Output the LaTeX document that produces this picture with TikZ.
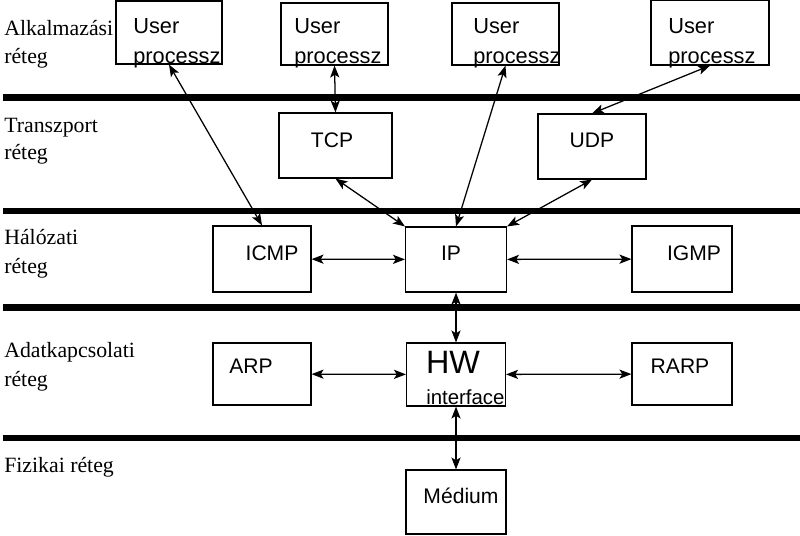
\documentclass[tikz,border=0pt]{standalone}
\usepackage{fontspec}
\setmainfont{Liberation Serif}
\setsansfont{Liberation Sans}
\usetikzlibrary{arrows.meta}

\begin{document}
\begin{tikzpicture}[
    x=0.025cm, y=-0.025cm,
    box/.style={draw, line width=0.8pt, minimum width=2.5cm, minimum height=1.6cm, inner sep=0pt},
    txt/.style={font=\sffamily\fontsize{15}{16}\selectfont, inner sep=0pt, anchor=base},
    usr/.style={font=\sffamily\fontsize{15.5}{17}\selectfont, inner sep=0pt, anchor=base west},
    lay/.style={font=\fontsize{15.5}{17}\selectfont, inner sep=0pt, anchor=base west},
    sep/.style={line width=4.4pt},
    arr/.style={<->, >={Stealth[length=8.5pt,width=6.5pt,inset=2pt]}, line width=0.9pt}
]
    \useasboundingbox (0,0) rectangle (800,535);

    % Layer separators
    \foreach \y in {97.5,211,307.5,438}
        \draw[sep] (3,\y) -- (800,\y);

    % Layer names
    \node[lay] (L1a) at (4,35) {Alkalmazási};
    \node[lay] (L1b) at (4,63) {réteg};
    \node[lay] (L2a) at (4,132) {Transzport};
    \node[lay] (L2b) at (4,159) {réteg};
    \node[lay] (L3a) at (4,244) {Hálózati};
    \node[lay] (L3b) at (4,273) {réteg};
    \node[lay] (L4a) at (4,357) {Adatkapcsolati};
    \node[lay] (L4b) at (4,386) {réteg};
    \node[lay] (L5) at (4,472) {Fizikai réteg};

    % Application layer
    \node[box, minimum width=2.65cm, minimum height=1.575cm] (U1) at (169,32.5) {};
    \node[box, minimum width=2.675cm, minimum height=1.55cm] (U2) at (334.5,34) {};
    \node[box, minimum width=2.675cm, minimum height=1.55cm] (U3) at (505.5,34) {};
    \node[box, minimum width=2.95cm, minimum height=1.625cm] (U4) at (710,32.5) {};
    \node[usr] (U1a) at (133,33) {User};
    \node[usr] (U1b) at (133,63) {processz};
    \node[usr] (U2a) at (294,33) {User};
    \node[usr] (U2b) at (294,63) {processz};
    \node[usr] (U3a) at (473,33) {User};
    \node[usr] (U3b) at (473,63) {processz};
    \node[usr] (U4a) at (668,33) {User};
    \node[usr] (U4b) at (668,63) {processz};

    % Transport layer
    \node[box, minimum width=2.825cm, minimum height=1.625cm] (TCP) at (335.5,145.5) {};
    \node[box, minimum width=2.7cm, minimum height=1.625cm] (UDP) at (592,146.5) {};
    \node[txt] (TCPt) at (332,147) {TCP};
    \node[txt] (UDPt) at (592,147) {UDP};

    % Network layer
    \node[box, minimum width=2.45cm, minimum height=1.65cm] (ICMP) at (262,259) {};
    \node[box, minimum width=2.525cm, minimum height=1.625cm] (IP) at (456,259.5) {};
    \node[box, minimum width=2.5cm, minimum height=1.65cm] (IGMP) at (682,259) {};
    \node[txt] (ICMPt) at (272,260) {ICMP};
    \node[txt] (IPt) at (451,260) {IP};
    \node[txt] (IGMPt) at (694,260) {IGMP};

    % Data link layer
    \node[box, minimum width=2.45cm, minimum height=1.55cm] (ARP) at (262,374) {};
    \node[box, minimum width=2.475cm, minimum height=1.575cm] (HW) at (456,374.5) {};
    \node[box, minimum width=2.5cm, minimum height=1.55cm] (RARP) at (682,374) {};
    \node[txt] (ARPt) at (251,373) {ARP};
    \node[txt, font=\sffamily\fontsize{23}{24}\selectfont] (HWt) at (453,373) {HW};
    \node[txt, anchor=base west, font=\sffamily\fontsize{14.5}{16}\selectfont] (HWb) at (426,404) {interface};
    \node[txt] (RARPt) at (680,373) {RARP};

    % Physical layer
    \node[box, minimum width=2.5cm, minimum height=1.6cm] (MED) at (456,502) {};
    \node[txt] (MEDt) at (461,503) {Médium};

    % Connectors
    \draw[arr] (U1.south) -- (ICMP.north);
    \draw[arr] (U2.south) -- (TCP.north);
    \draw[arr] (U3.south) -- (IP.north);
    \draw[arr] (U4.south) -- (UDP.north);
    \draw[arr] (TCP.south) -- (IP.north west);
    \draw[arr] (UDP.south) -- (IP.north east);
    \draw[arr] (ICMP) -- (IP);
    \draw[arr] (IP) -- (IGMP);
    \draw[arr] (IP) -- (HW);
    \draw[arr] (ARP) -- (HW);
    \draw[arr] (HW) -- (RARP);
    \draw[arr] (HW) -- (MED);
\end{tikzpicture}
\end{document}
